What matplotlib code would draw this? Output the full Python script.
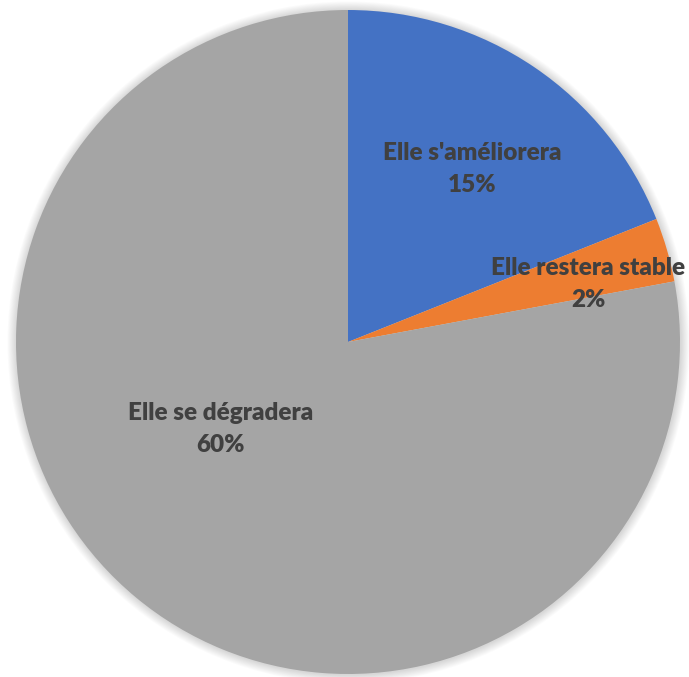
import numpy as np
import matplotlib.pyplot as plt
from matplotlib.patches import Circle

labels = ["Elle s'améliorera", "Elle restera stable", "Elle se dégradera"]
values = [14.6, 2.4, 60.0]
colors = ["#4472C4", "#ED7D31", "#A5A5A5"]

# label placement: radial distance and angular shift (deg) from wedge middle
label_dist = [0.64, 0.745, 0.465]
label_shift = [-1.5, -2.5, -16]

W, H = 689, 677
fig = plt.figure(figsize=(W / 100, H / 100), dpi=100)
cx, cy, r = 348, 342, 332
ax = fig.add_axes([(cx - r) / W, (H - cy - r) / H, 2 * r / W, 2 * r / H])

# soft shadow around the pie
for k in range(1, 11):
    ax.add_patch(Circle((0.4 / r, -0.4 / r), 1 + k * 0.9 / r, color="black",
                        alpha=0.016, lw=0, clip_on=False, zorder=0))

wedges, _ = ax.pie(values, colors=colors, startangle=90, counterclock=False,
                   wedgeprops=dict(linewidth=0, zorder=2))

for w, lab, v, d, s in zip(wedges, labels, values, label_dist, label_shift):
    ang = np.deg2rad((w.theta1 + w.theta2) / 2 + s)
    ax.text(d * np.cos(ang), d * np.sin(ang), f"{lab}\n{v:.0f}%",
            ha="center", va="center", fontsize=17.5, fontweight="heavy",
            family="Lato", color="#404040", linespacing=1.55, zorder=3)

ax.set_xlim(-1, 1)
ax.set_ylim(-1, 1)
ax.set_aspect("equal")
ax.axis("off")

fig.savefig("out.png", dpi=100)
